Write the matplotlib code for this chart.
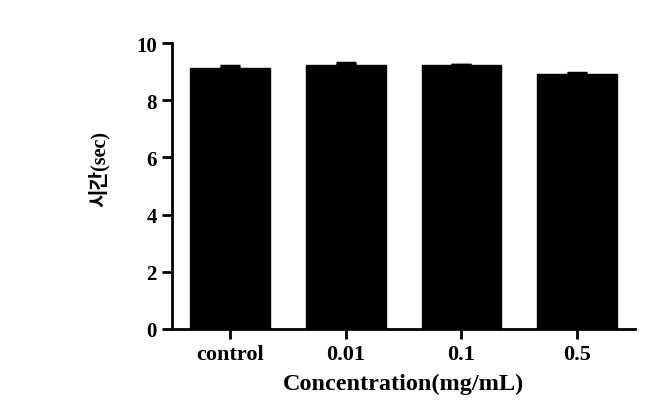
import matplotlib
matplotlib.use("Agg")
import matplotlib.pyplot as plt

categories = ["control", "0.01", "0.1", "0.5"]
means = [9.12, 9.22, 9.22, 8.90]
errors = [0.08, 0.08, 0.0, 0.04]
yticks = [0, 2, 4, 6, 8, 10]

plt.rcParams['font.family'] = ['Liberation Serif', 'Noto Sans CJK KR']
plt.rcParams['font.weight'] = 'bold'

fig = plt.figure(figsize=(6.63, 4.14), dpi=100)
ax = fig.add_axes([0.2594, 0.2029, 0.6986, 0.6908])

x = range(len(categories))
ax.bar(x, means, width=0.69, color='black', edgecolor='black', zorder=2)
ax.errorbar(x, means, yerr=[[0]*len(errors), errors], fmt='none', ecolor='black',
            elinewidth=2, capsize=7.5, capthick=2.5, zorder=3)

ax.set_xlim(-0.5, 3.5)
ax.set_ylim(0, 10)
ax.set_yticks(yticks)
ax.set_yticklabels([str(v) for v in yticks], fontsize=15, fontweight='bold')
ax.set_xticks(list(x))
ax.set_xticklabels(categories, fontsize=16, fontweight='bold')

for side in ['top', 'right']:
    ax.spines[side].set_visible(False)
for side in ['left', 'bottom']:
    ax.spines[side].set_linewidth(2)
ax.tick_params(axis='both', direction='out', length=7, width=2, pad=4)

ax.set_xlabel("Concentration(mg/mL)", fontsize=17.5, fontweight='bold', labelpad=6)
ax.set_ylabel("시간(sec)", fontsize=14.5, fontweight='bold')
ax.yaxis.set_label_coords(-0.135, 0.563)

fig.savefig("out.png", dpi=100)
